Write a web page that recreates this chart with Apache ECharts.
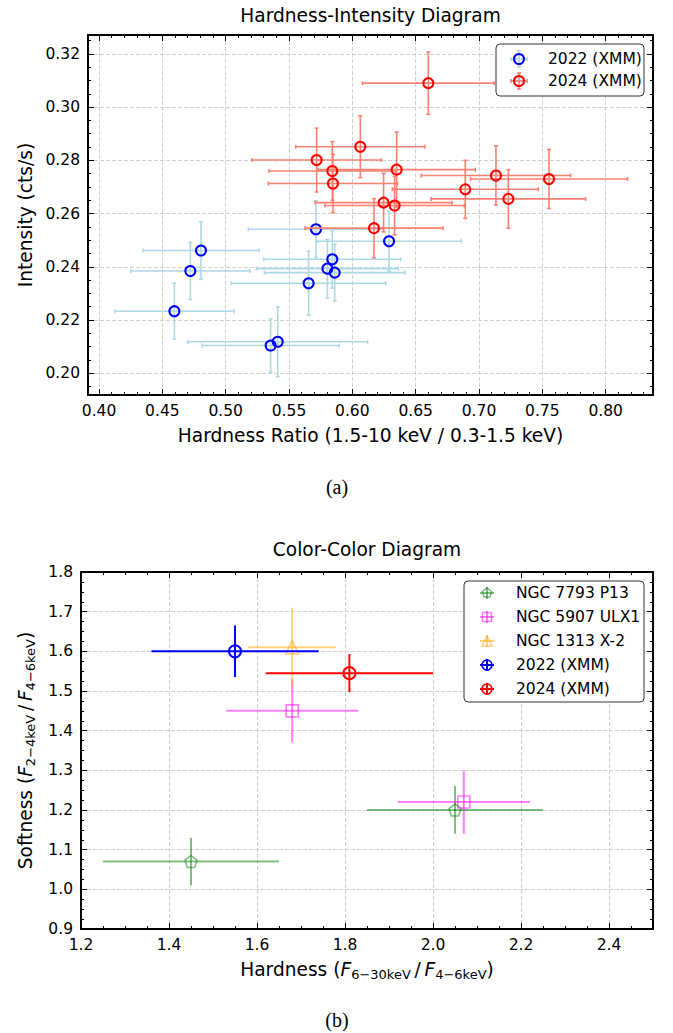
<!DOCTYPE html>
<html><head><meta charset="utf-8">
<script src="https://cdn.jsdelivr.net/npm/echarts@6/dist/echarts.min.js"></script>
<style>html,body{margin:0;padding:0;background:#fff}#c{width:673px;height:1033px}</style>
</head><body><div id="c"></div>
<script>
// ===== DATA: Hardness-Intensity Diagram =====
const hiLabels = ['2022 (XMM)', '2024 (XMM)'];
const hr2022     = [0.4595, 0.4721, 0.4805, 0.5355, 0.5411, 0.5655, 0.5713, 0.5803, 0.5842, 0.5861, 0.6290];
const hr2022Err  = [0.0470, 0.0470, 0.0457, 0.0542, 0.0710, 0.0610, 0.0534, 0.0560, 0.0540, 0.0555, 0.0570];
const int2022    = [0.2233, 0.2384, 0.2461, 0.2104, 0.2118, 0.2338, 0.2541, 0.2393, 0.2428, 0.2378, 0.2496];
const int2022Err = [0.0105, 0.0107, 0.0108, 0.0100, 0.0131, 0.0120, 0.0107, 0.0110, 0.0108, 0.0107, 0.0112];

const hr2024     = [0.5718, 0.5842, 0.5847, 0.6063, 0.6600, 0.6350, 0.7134, 0.7553, 0.6892, 0.7232, 0.6247, 0.6334, 0.6171];
const hr2024Err  = [0.0510, 0.0500, 0.0510, 0.0510, 0.0520, 0.0620, 0.0590, 0.0620, 0.0576, 0.0610, 0.0540, 0.0550, 0.0545];
const int2024    = [0.2801, 0.2760, 0.2713, 0.2851, 0.3090, 0.2765, 0.2743, 0.2730, 0.2691, 0.2655, 0.2641, 0.2630, 0.2545];
const int2024Err = [0.0120, 0.0110, 0.0110, 0.0116, 0.0117, 0.0141, 0.0111, 0.0111, 0.0109, 0.0110, 0.0110, 0.0110, 0.0111];

// ===== DATA: Color-Color Diagram =====
const ccLabels = ['NGC 7793 P13', 'NGC 5907 ULX1', 'NGC 1313 X-2', '2022 (XMM)', '2024 (XMM)'];
const p13Hard = [1.45, 2.05], p13HardErr = [0.20, 0.20], p13Soft = [1.07, 1.20], p13SoftErr = [0.06, 0.06];
const ulx1Hard = [1.68, 2.07], ulx1HardErr = [0.15, 0.15], ulx1Soft = [1.45, 1.22], ulx1SoftErr = [0.08, 0.08];
const x2Hard = [1.68], x2HardErr = [0.10], x2Soft = [1.61], x2SoftErr = [0.10];
const cc2022Hard = [1.55], cc2022HardErr = [0.19], cc2022Soft = [1.60], cc2022SoftErr = [0.065];
const cc2024Hard = [1.81], cc2024HardErr = [0.19], cc2024Soft = [1.545], cc2024SoftErr = [0.048];

// ===== axis ranges / steps =====
const HI_X = [0.3913, 0.8374], HI_XSTEP = 0.05, HI_XMINOR = 0.01;
const HI_Y = [0.1918, 0.3271], HI_YSTEP = 0.02, HI_YMINOR = 0.005;
const CC_X = [1.2, 2.5], CC_XSTEP = 0.2, CC_XMINOR = 0.05;
const CC_Y = [0.9, 1.8], CC_YSTEP = 0.1, CC_YMINOR = 0.025;

const FONT = 'DejaVu Sans';
const TICK_FS = 15.5, NAME_FS = 18.6, LEG_FS = 15.5;

function rows(x, xe, y, ye) { return x.map((v, i) => [v, y[i], xe[i], ye[i]]); }
function pts(x, y) { return x.map((v, i) => [v, y[i]]); }
function isMult(v, s) { return Math.abs(v / s - Math.round(v / s)) < 1e-6; }

function axis(grid, pos, lim, step, len, extra) {
  const a = {
    type: 'value', gridIndex: grid, position: pos, min: lim[0], max: lim[1],
    minInterval: step, maxInterval: step, splitNumber: Math.round((lim[1] - lim[0]) / step),
    axisLine: { show: false, onZero: false },
    axisTick: { show: true, inside: true, length: len, lineStyle: { color: '#000', width: 1 } },
    axisLabel: { show: false }, splitLine: { show: false }, silent: true
  };
  return Object.assign(a, extra || {});
}
const borderLine = { show: true, onZero: false, lineStyle: { color: '#000', width: 2 } };
const gridLine = { show: true, lineStyle: { color: '#cfcfcf', width: 1, type: [4, 2] } };
function labels(step, dec, margin) {
  return { show: true, inside: false, margin: margin, color: '#000', fontFamily: FONT, fontSize: TICK_FS,
    formatter: v => isMult(v, step) ? v.toFixed(dec) : '' };
}
const nameStyle = {
  color: '#000', fontFamily: FONT, fontSize: NAME_FS, lineHeight: 24,
  rich: {
    it: { fontFamily: FONT, fontSize: NAME_FS, fontStyle: 'italic', lineHeight: 24, color: '#000' },
    sub: { fontFamily: FONT, fontSize: 13, lineHeight: 13, verticalAlign: 'bottom', color: '#000' }
  }
};

const MAJ = 6, MIN = 3;
const xAxes = [
  // HI main grid 0
  axis(0, 'bottom', HI_X, HI_XSTEP, MAJ, { axisLine: borderLine, splitLine: gridLine, axisLabel: labels(HI_XSTEP, 2, 8),
    name: 'Hardness Ratio (1.5-10 keV / 0.3-1.5 keV)', nameLocation: 'middle', nameGap: 31,
    nameTextStyle: { color: '#000', fontFamily: FONT, fontSize: NAME_FS } }),
  axis(0, 'top', HI_X, HI_XSTEP, MAJ, { axisLine: borderLine }),
  // HI minor grid 1
  axis(1, 'bottom', HI_X, HI_XMINOR, MIN),
  axis(1, 'top', HI_X, HI_XMINOR, MIN),
  // CC main grid 2
  axis(2, 'bottom', CC_X, CC_XSTEP, MAJ, { axisLine: borderLine, splitLine: gridLine, axisLabel: labels(CC_XSTEP, 1, 8),
    name: 'Hardness ({it|F}{sub|6−30keV}\u2009/\u2009{it|F}{sub|4−6keV})', nameLocation: 'middle', nameGap: 28,
    nameTextStyle: nameStyle }),
  axis(2, 'top', CC_X, CC_XSTEP, MAJ, { axisLine: borderLine }),
  // CC minor grid 3
  axis(3, 'bottom', CC_X, CC_XMINOR, MIN),
  axis(3, 'top', CC_X, CC_XMINOR, MIN)
];
const yAxes = [
  axis(0, 'left', HI_Y, HI_YSTEP, MAJ, { axisLine: borderLine, splitLine: gridLine, axisLabel: labels(HI_YSTEP, 2, 8),
    name: 'Intensity (cts/s)', nameLocation: 'middle', nameGap: 47,
    nameTextStyle: { color: '#000', fontFamily: FONT, fontSize: NAME_FS } }),
  axis(0, 'right', HI_Y, HI_YSTEP, MAJ, { axisLine: borderLine }),
  axis(1, 'left', HI_Y, HI_YMINOR, MIN),
  axis(1, 'right', HI_Y, HI_YMINOR, MIN),
  axis(2, 'left', CC_Y, CC_YSTEP, MAJ, { axisLine: borderLine, splitLine: gridLine, axisLabel: labels(CC_YSTEP, 1, 8),
    name: 'Softness ({it|F}{sub|2−4keV}\u2009/\u2009{it|F}{sub|4−6keV})', nameLocation: 'middle', nameGap: 40,
    nameTextStyle: nameStyle }),
  axis(2, 'right', CC_Y, CC_YSTEP, MAJ, { axisLine: borderLine }),
  axis(3, 'left', CC_Y, CC_YMINOR, MIN),
  axis(3, 'right', CC_Y, CC_YMINOR, MIN)
];

const grids = [
  { left: 88, top: 35, width: 565, height: 360 },
  { left: 88, top: 35, width: 565, height: 360 },
  { left: 81, top: 572, width: 572, height: 357 },
  { left: 81, top: 572, width: 572, height: 357 }
];

function errRenderer(color, lw, cap, opacity) {
  return function (params, api) {
    const x = api.value(0), y = api.value(1), xe = api.value(2), ye = api.value(3);
    const L = api.coord([x - xe, y]), R = api.coord([x + xe, y]);
    const T = api.coord([x, y + ye]), B = api.coord([x, y - ye]);
    const st = () => ({ stroke: color, lineWidth: lw, opacity: opacity });
    const ln = (a, b, c, d) => ({ type: 'line', shape: { x1: a, y1: b, x2: c, y2: d }, style: st() });
    const ch = [ln(L[0], L[1], R[0], R[1]), ln(T[0], T[1], B[0], B[1])];
    if (cap) {
      ch.push(ln(L[0], L[1] - cap, L[0], L[1] + cap), ln(R[0], R[1] - cap, R[0], R[1] + cap),
              ln(T[0] - cap, T[1], T[0] + cap, T[1]), ln(B[0] - cap, B[1], B[0] + cap, B[1]));
    }
    return { type: 'group', children: ch };
  };
}
function errSeries(xi, yi, data, color, lw, cap, opacity, z) {
  return { type: 'custom', xAxisIndex: xi, yAxisIndex: yi, data: data, encode: { x: 0, y: 1 },
    renderItem: errRenderer(color, lw, cap, opacity), silent: true, z: z, clip: false };
}
function mkSeries(xi, yi, data, symbol, size, color, lw, opacity, z) {
  return { type: 'scatter', xAxisIndex: xi, yAxisIndex: yi, data: data, symbol: symbol, symbolSize: size,
    itemStyle: { color: 'rgba(0,0,0,0)', borderColor: color, borderWidth: lw, opacity: opacity },
    silent: true, z: z };
}
const PENTA = 'path://M0,-1L0.951,-0.309L0.588,0.809L-0.588,0.809L-0.951,-0.309Z';

const C_BLUE = '#0000ff', C_RED = '#ff0000', C_LB = '#add8e6', C_SAL = '#fa8072';
const C_GREEN = '#008000', C_MAG = '#ff00ff', C_ORA = '#ffa500';

const series = [
  errSeries(0, 0, rows(hr2022, hr2022Err, int2022, int2022Err), C_LB, 1.6, 2, 1, 2),
  mkSeries(0, 0, pts(hr2022, int2022), 'circle', 10, C_BLUE, 2, 1, 3),
  errSeries(0, 0, rows(hr2024, hr2024Err, int2024, int2024Err), C_SAL, 1.6, 2, 1, 4),
  mkSeries(0, 0, pts(hr2024, int2024), 'circle', 10, C_RED, 2, 1, 5),

  errSeries(4, 4, rows(p13Hard, p13HardErr, p13Soft, p13SoftErr), C_GREEN, 2, 0, 0.5, 2),
  mkSeries(4, 4, pts(p13Hard, p13Soft), PENTA, 12, C_GREEN, 1.6, 0.5, 3),
  errSeries(4, 4, rows(ulx1Hard, ulx1HardErr, ulx1Soft, ulx1SoftErr), C_MAG, 2, 0, 0.5, 4),
  mkSeries(4, 4, pts(ulx1Hard, ulx1Soft), 'rect', 12, C_MAG, 1.6, 0.5, 5),
  errSeries(4, 4, rows(x2Hard, x2HardErr, x2Soft, x2SoftErr), C_ORA, 2, 0, 0.5, 6),
  mkSeries(4, 4, pts(x2Hard, x2Soft), 'triangle', 13, C_ORA, 1.6, 0.5, 7),
  errSeries(4, 4, rows(cc2022Hard, cc2022HardErr, cc2022Soft, cc2022SoftErr), C_BLUE, 2, 0, 1, 8),
  mkSeries(4, 4, pts(cc2022Hard, cc2022Soft), 'circle', 12, C_BLUE, 2, 1, 9),
  errSeries(4, 4, rows(cc2024Hard, cc2024HardErr, cc2024Soft, cc2024SoftErr), C_RED, 2, 0, 1, 10),
  mkSeries(4, 4, pts(cc2024Hard, cc2024Soft), 'circle', 12, C_RED, 2, 1, 11)
];

// ===== legends, titles, captions (graphic) =====
function txt(x, y, s, font, align) {
  return { type: 'text', x: x, y: y, z: 100,
    style: { text: s, font: font, fill: '#000', align: align || 'left', textAlign: align || 'left',
             verticalAlign: 'middle', textVerticalAlign: 'middle' } };
}
function gl(x1, y1, x2, y2, color, lw, op) {
  return { type: 'line', z: 100, shape: { x1, y1, x2, y2 }, style: { stroke: color, lineWidth: lw, opacity: op } };
}
function iconShape(kind, cx, cy, r, color, lw, op) {
  const st = { fill: 'none', stroke: color, lineWidth: lw, opacity: op };
  if (kind === 'circle') return { type: 'circle', z: 101, shape: { cx, cy, r }, style: st };
  if (kind === 'rect') return { type: 'rect', z: 101, shape: { x: cx - r, y: cy - r, width: 2 * r, height: 2 * r }, style: st };
  if (kind === 'triangle') return { type: 'polygon', z: 101, shape: { points: [[cx, cy - r], [cx + r, cy + r], [cx - r, cy + r]] }, style: st };
  const p = [];
  for (let k = 0; k < 5; k++) { const a = -Math.PI / 2 + k * 2 * Math.PI / 5; p.push([cx + r * Math.cos(a), cy + r * Math.sin(a)]); }
  return { type: 'polygon', z: 101, shape: { points: p }, style: st };
}
const g = [];
// top legend
g.push({ type: 'rect', z: 99, shape: { x: 496, y: 44, width: 148, height: 52, r: 4 }, style: { fill: '#fff', stroke: '#333', lineWidth: 1 } });
[[C_LB, C_BLUE], [C_SAL, C_RED]].forEach((c, i) => {
  const cy = 59 + i * 22, cx = 519;
  g.push(gl(cx - 8, cy, cx + 8, cy, c[0], 1.6, 1), gl(cx, cy - 8, cx, cy + 8, c[0], 1.6, 1),
         gl(cx - 8, cy - 2, cx - 8, cy + 2, c[0], 1.6, 1), gl(cx + 8, cy - 2, cx + 8, cy + 2, c[0], 1.6, 1),
         gl(cx - 2, cy - 8, cx + 2, cy - 8, c[0], 1.6, 1), gl(cx - 2, cy + 8, cx + 2, cy + 8, c[0], 1.6, 1));
  g.push(iconShape('circle', cx, cy, 5, c[1], 2, 1));
  g.push(txt(548, cy, hiLabels[i], LEG_FS + 'px "' + FONT + '"'));
});
// bottom legend
g.push({ type: 'rect', z: 99, shape: { x: 464, y: 581, width: 180, height: 121, r: 4 }, style: { fill: '#fff', stroke: '#333', lineWidth: 1 } });
[['pentagon', C_GREEN, 0.5], ['rect', C_MAG, 0.5], ['triangle', C_ORA, 0.5], ['circle', C_BLUE, 1], ['circle', C_RED, 1]].forEach((c, i) => {
  const cy = 593 + i * 24, cx = 487;
  g.push(gl(cx - 7, cy, cx + 7, cy, c[1], 2, c[2]), gl(cx, cy - 6, cx, cy + 6, c[1], 2, c[2]));
  g.push(iconShape(c[0], cx, cy, c[0] === 'rect' ? 4.5 : 5, c[1], 1.6, c[2]));
  g.push(txt(516, cy, ccLabels[i], LEG_FS + 'px "' + FONT + '"'));
});
// titles and captions
g.push(txt(370.5, 15, 'Hardness-Intensity Diagram', NAME_FS + 'px "' + FONT + '"', 'center'));
g.push(txt(367, 549, 'Color-Color Diagram', NAME_FS + 'px "' + FONT + '"', 'center'));
g.push(txt(337, 487, '(a)', '20px "Liberation Serif"', 'center'));
g.push(txt(337, 1020, '(b)', '20px "Liberation Serif"', 'center'));

const chart = echarts.init(document.getElementById('c'), null, { renderer: 'svg' });
chart.setOption({
  animation: false,
  backgroundColor: '#ffffff',
  grid: grids,
  xAxis: xAxes,
  yAxis: yAxes,
  series: series,
  graphic: { elements: g }
});
</script>
</body></html>
